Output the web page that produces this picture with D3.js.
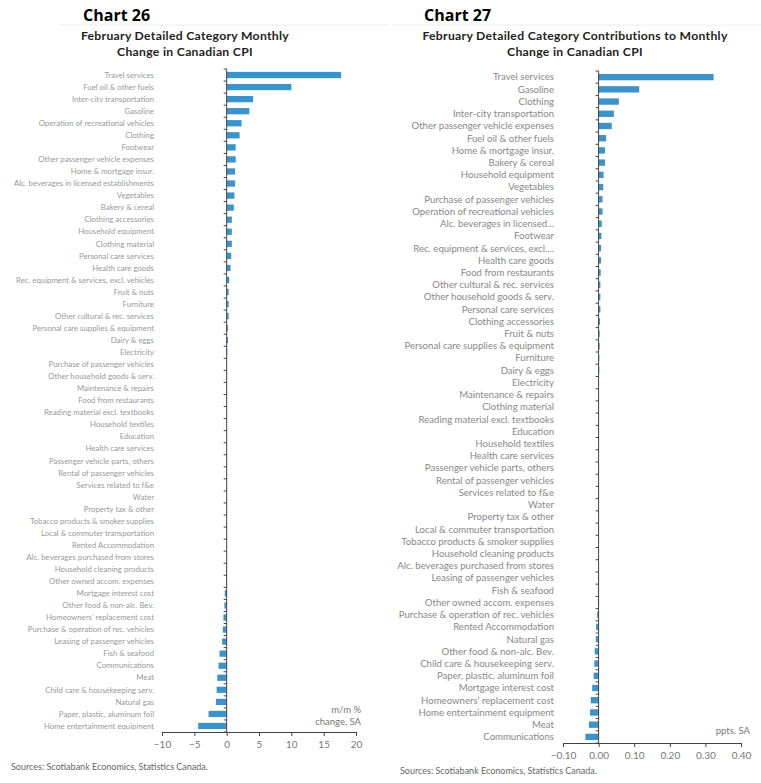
<!DOCTYPE html>
<html>
<head>
<meta charset="utf-8">
<script src="https://cdn.jsdelivr.net/npm/d3@7"></script>
<style>
	body { margin: 0; background: #fff; }
	svg { display: block; }
</style>
</head>
<body>
<script>
(function () {
	"use strict";

	// chart 26: m/m % change, SA
	let cats26 = [
		'Travel services', 'Fuel oil & other fuels', 'Inter-city transportation', 'Gasoline',
		'Operation of recreational vehicles', 'Clothing', 'Footwear', 'Other passenger vehicle expenses',
		'Home & mortgage insur.', 'Alc. beverages in licensed establishments', 'Vegetables', 'Bakery & cereal',
		'Clothing accessories', 'Household equipment', 'Clothing material', 'Personal care services',
		'Health care goods', 'Rec. equipment & services, excl. vehicles', 'Fruit & nuts', 'Furniture',
		'Other cultural & rec. services', 'Personal care supplies & equipment', 'Dairy & eggs', 'Electricity',
		'Purchase of passenger vehicles', 'Other household goods & serv.', 'Maintenance & repairs',
		'Food from restaurants', 'Reading material excl. textbooks', 'Household textiles', 'Education',
		'Health care services', 'Passenger vehicle parts, others', 'Rental of passenger vehicles',
		'Services related to f&e', 'Water', 'Property tax & other', 'Tobacco products & smoker supplies',
		'Local & commuter transportation', 'Rented Accommodation', 'Alc. beverages purchased from stores',
		'Household cleaning products', 'Other owned accom. expenses', 'Mortgage interest cost',
		'Other food & non-alc. Bev.', "Homeowners' replacement cost", 'Purchase & operation of rec. vehicles',
		'Leasing of passenger vehicles', 'Fish & seafood', 'Communications', 'Meat',
		'Child care & housekeeping serv.', 'Natural gas', 'Paper, plastic, aluminum foil',
		'Home entertainment equipment'
	];
	let vals26 = [
		17.7, 10.0, 4.1, 3.5, 2.3, 2.0, 1.4, 1.4, 1.3, 1.3, 1.2, 1.1,
		0.8, 0.8, 0.8, 0.7, 0.6, 0.4, 0.3, 0.3, 0.3, 0.2, 0.2, 0.1,
		0.05, 0.05, 0.03, 0.03, 0.02, 0.01, 0, 0, 0, 0, 0, 0, 0, 0, 0, 0,
		-0.02, -0.1, -0.1, -0.3, -0.35, -0.5, -0.6, -0.7, -1.1, -1.25, -1.45,
		-1.55, -1.65, -2.8, -4.4
	];
	let ticks26 = [-10, -5, 0, 5, 10, 15, 20];

	// chart 27: contributions, ppts. SA
	let cats27 = [
		'Travel services', 'Gasoline', 'Clothing', 'Inter-city transportation',
		'Other passenger vehicle expenses', 'Fuel oil & other fuels', 'Home & mortgage insur.',
		'Bakery & cereal', 'Household equipment', 'Vegetables', 'Purchase of passenger vehicles',
		'Operation of recreational vehicles', 'Alc. beverages in licensed...', 'Footwear',
		'Rec. equipment & services, excl....', 'Health care goods', 'Food from restaurants',
		'Other cultural & rec. services', 'Other household goods & serv.', 'Personal care services',
		'Clothing accessories', 'Fruit & nuts', 'Personal care supplies & equipment', 'Furniture',
		'Dairy & eggs', 'Electricity', 'Maintenance & repairs', 'Clothing material',
		'Reading material excl. textbooks', 'Education', 'Household textiles', 'Health care services',
		'Passenger vehicle parts, others', 'Rental of passenger vehicles', 'Services related to f&e',
		'Water', 'Property tax & other', 'Local & commuter transportation',
		'Tobacco products & smoker supplies', 'Household cleaning products',
		'Alc. beverages purchased from stores', 'Leasing of passenger vehicles', 'Fish & seafood',
		'Other owned accom. expenses', 'Purchase & operation of rec. vehicles', 'Rented Accommodation',
		'Natural gas', 'Other food & non-alc. Bev.', 'Child care & housekeeping serv.',
		'Paper, plastic, aluminum foil', 'Mortgage interest cost', "Homeowners' replacement cost",
		'Home entertainment equipment', 'Meat', 'Communications'
	];
	let vals27 = [
		0.323, 0.114, 0.057, 0.043, 0.037, 0.021, 0.018, 0.018, 0.014, 0.013, 0.011, 0.011,
		0.009, 0.008, 0.007, 0.007, 0.006, 0.005, 0.005, 0.005, 0.004, 0.003, 0.003, 0.002,
		0.002, 0.001, 0.001, 0.0005, 0.0002, 0, 0, 0, 0, 0, 0, 0, 0, 0, 0, 0,
		-0.001, -0.002, -0.002, -0.002, -0.004, -0.007, -0.008, -0.011, -0.012, -0.014,
		-0.018, -0.022, -0.024, -0.027, -0.037
	];
	let ticks27 = [-0.1, 0, 0.1, 0.2, 0.3, 0.4];

	let w = 761;
	let h = 783;
	let barColor = '#3b93ca';

	let svg = d3.select('body').append('svg')
		.attr('width', w)
		.attr('height', h);

	// faint panel tops
	svg.append('line').attr('x1', 60).attr('x2', 388).attr('y1', 25).attr('y2', 25)
		.attr('stroke', '#ececec');
	svg.append('line').attr('x1', 392).attr('x2', 761).attr('y1', 25).attr('y2', 25)
		.attr('stroke', '#ececec');

	function drawChart(opt) {
		let g = svg.append('g');

		g.append('text')
			.attr('x', opt.titleX).attr('y', 21)
			.attr('font-family', 'Open Sans, sans-serif')
			.attr('font-weight', 'bold')
			.attr('font-size', 16)
			.attr('fill', '#000')
			.text(opt.title);

		opt.subtitle.forEach(function (line, i) {
			g.append('text')
				.attr('x', opt.subX).attr('y', 40 + i * 16)
				.attr('text-anchor', 'middle')
				.attr('font-family', 'Lato, sans-serif')
				.attr('font-weight', 'bold')
				.attr('font-size', opt.subSize)
				.attr('letter-spacing', 0.3)
				.attr('fill', '#222')
				.text(line);
		});

		let x = d3.scaleLinear().domain(opt.domain).range(opt.xRange);
		let y = d3.scaleBand().domain(opt.cats).range(opt.yRange).paddingInner(0.48).paddingOuter(0.24);

		g.selectAll('rect.bar')
			.data(opt.vals)
			.enter()
			.append('rect')
			.attr('class', 'bar')
			.attr('x', (d) => x(Math.min(0, d)))
			.attr('y', (d, i) => y(opt.cats[i]))
			.attr('width', (d) => Math.abs(x(d) - x(0)))
			.attr('height', y.bandwidth())
			.attr('fill', barColor);

		// category labels
		g.selectAll('text.cat')
			.data(opt.cats)
			.enter()
			.append('text')
			.attr('class', 'cat')
			.attr('x', opt.labelX)
			.attr('y', (d) => y(d) + y.bandwidth() / 2)
			.attr('dy', '0.35em')
			.attr('text-anchor', 'end')
			.attr('font-family', 'Lato, sans-serif')
			.attr('font-size', opt.labelSize)
			.attr('fill', opt.labelColor)
			.text((d) => d);

		// y axis at zero with ticks at band boundaries
		let step = (opt.yRange[1] - opt.yRange[0]) / opt.cats.length;
		let x0 = x(0);
		g.append('line')
			.attr('x1', x0).attr('x2', x0)
			.attr('y1', opt.yRange[0]).attr('y2', opt.yRange[1])
			.attr('stroke', '#444').attr('stroke-width', 1);
		g.selectAll('line.ytick')
			.data(d3.range(opt.cats.length + 1))
			.enter()
			.append('line')
			.attr('class', 'ytick')
			.attr('x1', x0 - 3).attr('x2', x0)
			.attr('y1', (d) => opt.yRange[0] + d * step)
			.attr('y2', (d) => opt.yRange[0] + d * step)
			.attr('stroke', '#444');

		// x axis
		let xAxis = d3.axisBottom(x)
			.tickValues(opt.ticks)
			.tickSize(4)
			.tickFormat(opt.fmt);
		let ax = g.append('g')
			.attr('transform', 'translate(0,' + opt.yRange[1] + ')')
			.call(xAxis);
		ax.select('.domain').attr('stroke', '#444');
		ax.selectAll('.tick line').attr('stroke', '#444');
		ax.selectAll('.tick text')
			.attr('font-family', 'Lato, sans-serif')
			.attr('font-size', 10)
			.attr('fill', '#777')
			.attr('dy', '0.9em');

		opt.unit.forEach(function (line, i) {
			g.append('text')
				.attr('x', opt.unitX).attr('y', opt.unitY + i * 12)
				.attr('text-anchor', 'end')
				.attr('font-family', 'Lato, sans-serif')
				.attr('font-size', 9.5)
				.attr('fill', '#777')
				.text(line);
		});

		g.append('text')
			.attr('x', opt.srcX).attr('y', opt.srcY)
			.attr('font-family', 'Lato, sans-serif')
			.attr('font-size', 9)
			.attr('fill', '#666')
			.text(opt.source);
	}

	drawChart({
		title: 'Chart 26',
		titleX: 83,
		subtitle: ['February Detailed Category Monthly', 'Change in Canadian CPI'],
		subX: 185,
		subSize: 12.2,
		cats: cats26,
		vals: vals26,
		domain: [-10, 20],
		xRange: [162, 356],
		yRange: [69, 732],
		ticks: ticks26,
		fmt: d3.format('d'),
		labelX: 154,
		labelSize: 7.8,
		labelColor: '#999',
		unit: ['m/m %', 'change, SA'],
		unitX: 361,
		unitY: 713,
		source: 'Sources: Scotiabank Economics, Statistics Canada.',
		srcX: 11,
		srcY: 770
	});

	drawChart({
		title: 'Chart 27',
		titleX: 424,
		subtitle: ['February Detailed Category Contributions to Monthly', 'Change in Canadian CPI'],
		subX: 575,
		subSize: 12.2,
		cats: cats27,
		vals: vals27,
		domain: [-0.1, 0.4],
		xRange: [563, 741],
		yRange: [71, 743],
		ticks: ticks27,
		fmt: d3.format('.2f'),
		labelX: 554,
		labelSize: 9.6,
		labelColor: '#888',
		unit: ['ppts. SA'],
		unitX: 750,
		unitY: 734,
		source: 'Sources: Scotiabank Economics,  Statistics Canada.',
		srcX: 400,
		srcY: 774
	});

})();
</script>
</body>
</html>
